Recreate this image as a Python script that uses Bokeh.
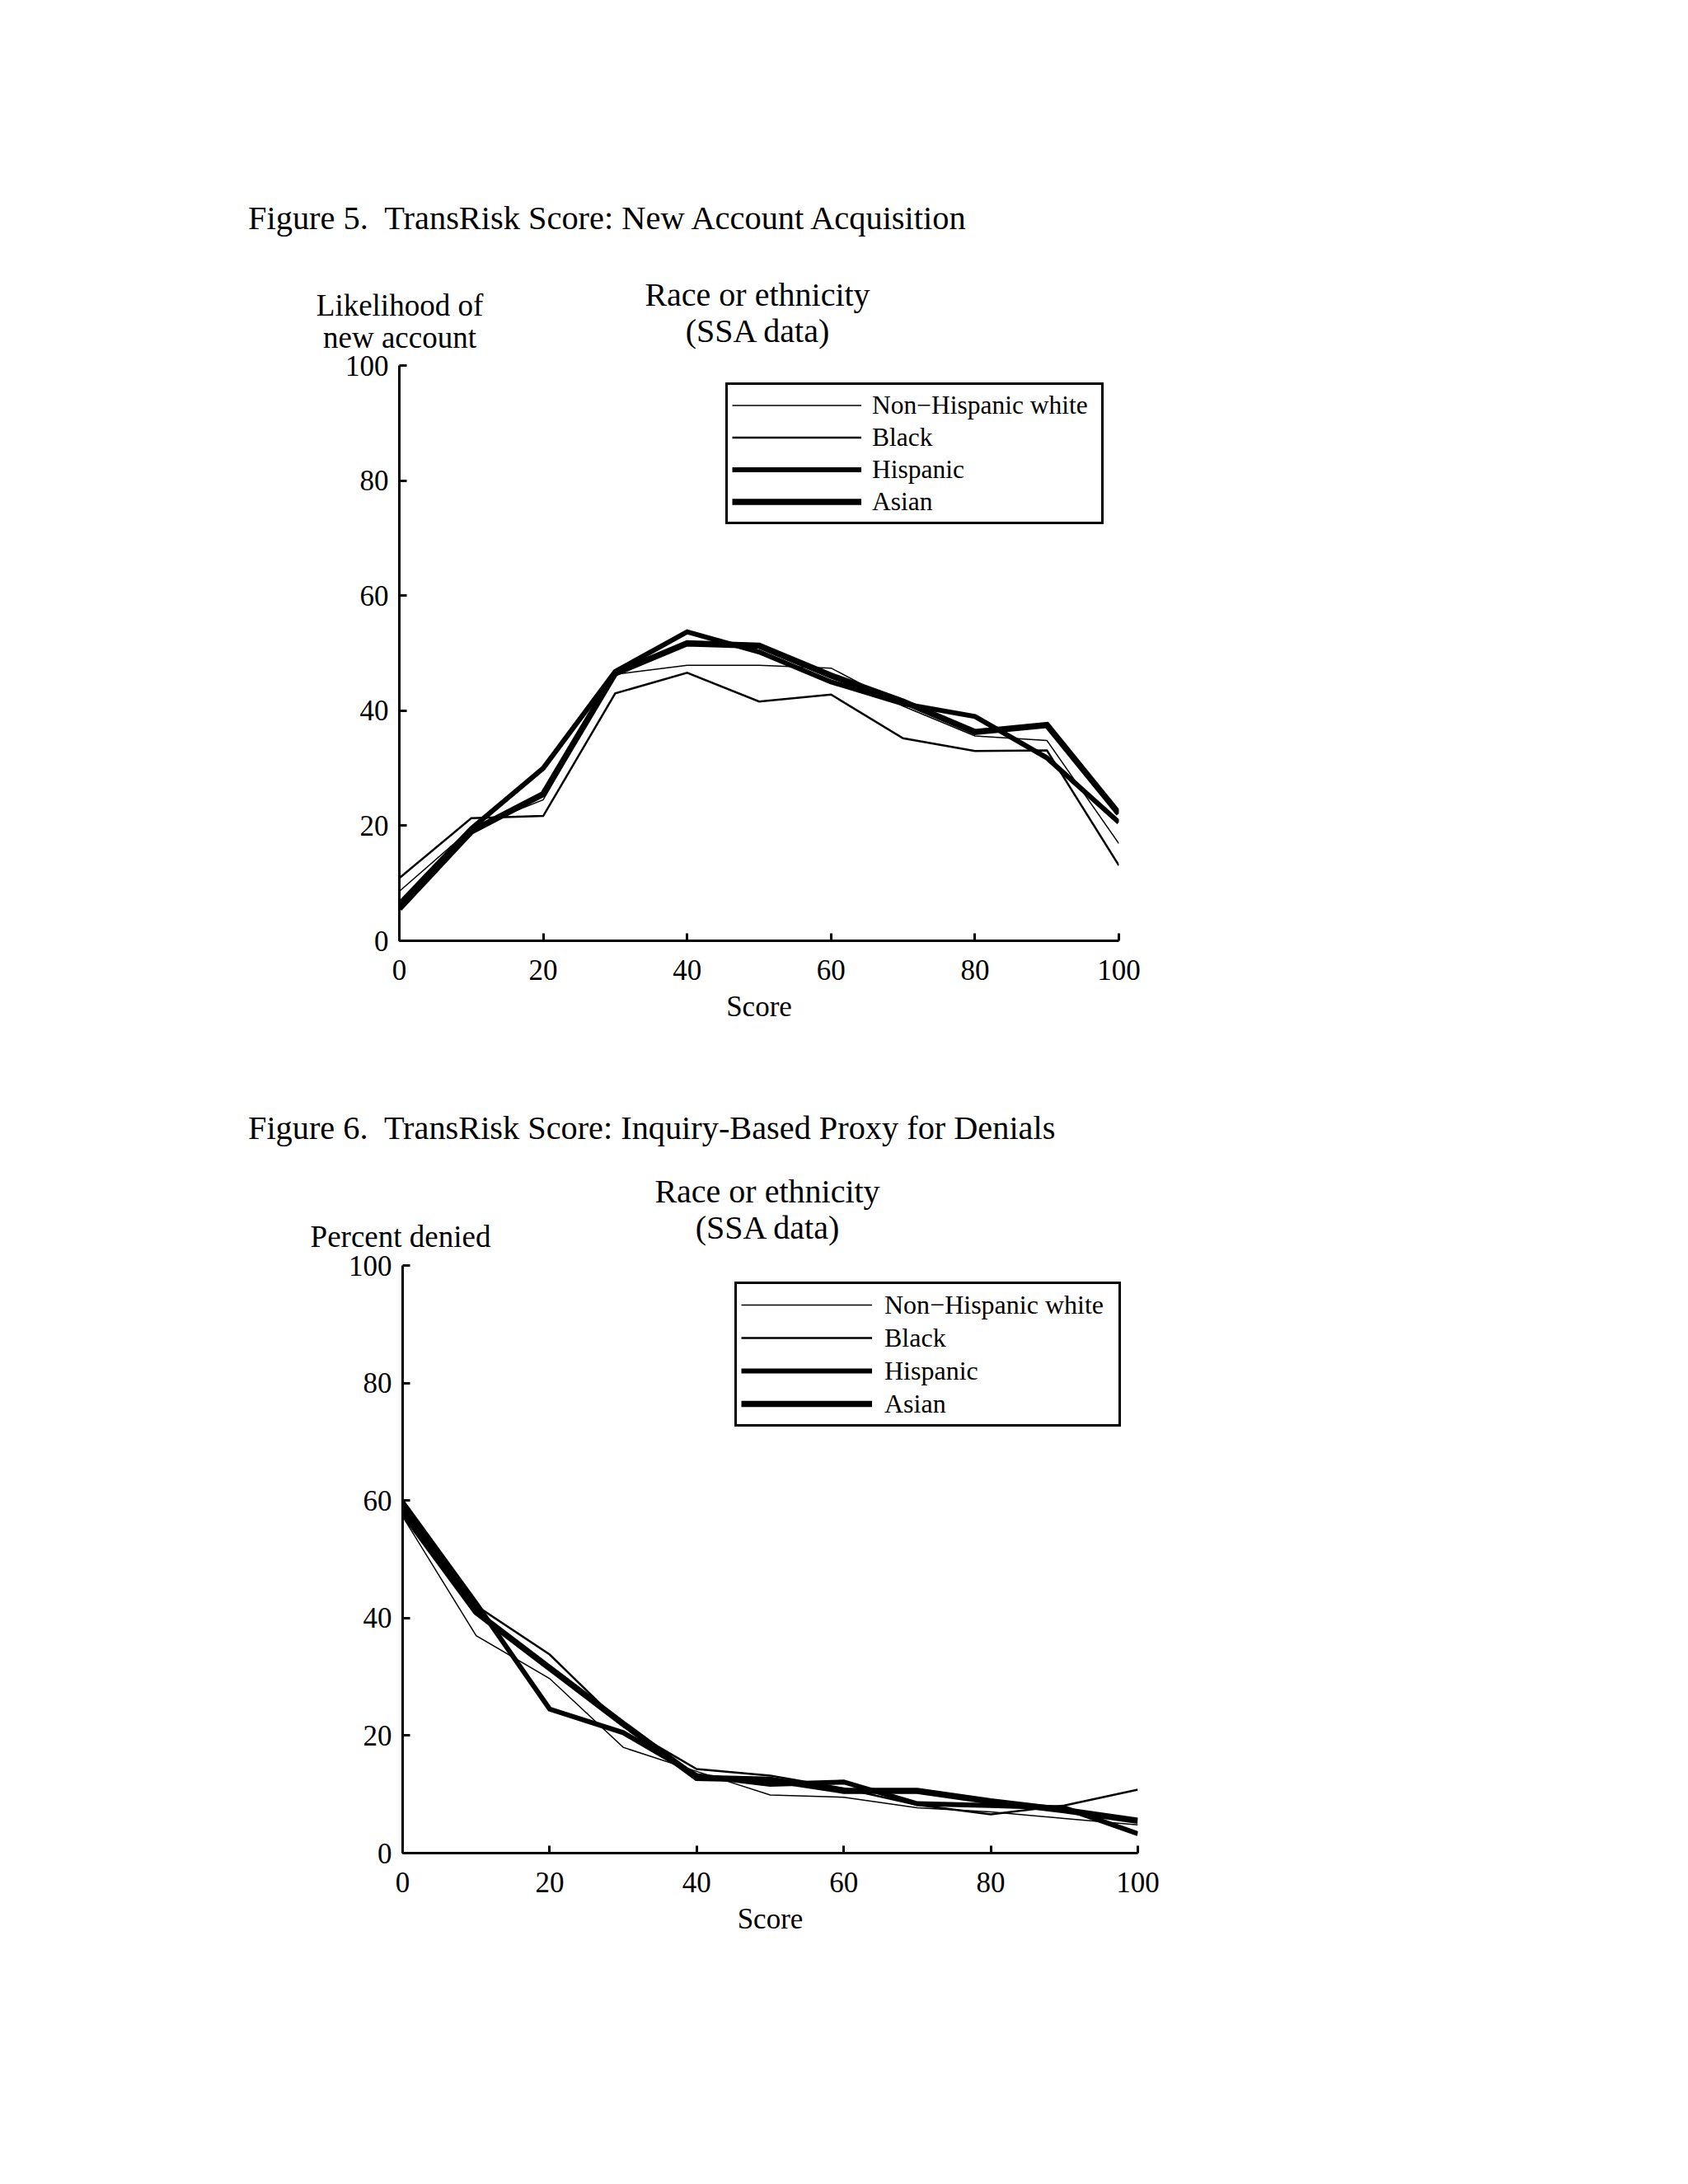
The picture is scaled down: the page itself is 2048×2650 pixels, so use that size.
from bokeh.plotting import figure
from bokeh.models import Range1d, FixedTicker, Legend, LegendItem, Div
from bokeh.layouts import column
from bokeh.embed import file_html
from bokeh.resources import INLINE

FONT = "Liberation Serif"

scores = [0, 10, 20, 30, 40, 50, 60, 70, 80, 90, 100]
series_names = ["Non\u2212Hispanic white", "Black", "Hispanic", "Asian"]
ticks = [0, 20, 40, 60, 80, 100]

# Figure 5: likelihood of new account
acq_white = [8.6, 19.5, 24.5, 46.3, 47.9, 47.9, 47.4, 40.8, 35.6, 34.8, 16.9]
acq_black = [10.9, 21.3, 21.7, 43.0, 46.6, 41.6, 42.8, 35.2, 33.0, 33.1, 13.1]
acq_hispanic = [6.4, 19.5, 30.0, 46.8, 53.7, 50.2, 45.0, 41.2, 39.0, 31.8, 20.6]
acq_asian = [5.6, 19.0, 25.5, 46.5, 51.7, 51.3, 46.1, 41.6, 36.3, 37.5, 22.1]

# Figure 6: percent denied
den_white = [57.3, 37.0, 29.7, 18.0, 13.9, 9.9, 9.5, 7.7, 7.0, 5.9, 4.8]
den_black = [58.8, 42.1, 33.8, 21.6, 14.3, 13.2, 11.0, 8.2, 6.6, 8.1, 10.8]
den_hispanic = [59.7, 42.5, 24.5, 20.5, 13.2, 11.7, 12.1, 8.4, 8.1, 7.7, 3.3]
den_asian = [58.0, 41.0, 31.5, 22.0, 12.8, 12.5, 10.6, 10.6, 8.8, 7.3, 5.5]

fig5_title = "Figure 5.  TransRisk Score: New Account Acquisition"
fig6_title = "Figure 6.  TransRisk Score: Inquiry-Based Proxy for Denials"
chart_title = ["Race or ethnicity", "(SSA data)"]
fig5_ylabel = ["Likelihood of", "new account"]
fig6_ylabel = ["Percent denied"]

widths = [1.5, 2.5, 6.0, 7.5]


def span(text, left, top, size, center=True):
    tr = "translate(-50%,-50%)" if center else "translateY(-50%)"
    return ('<span style="position:absolute;left:%dpx;top:%dpx;'
            'transform:%s;font-size:%.1fpx;line-height:1;white-space:pre;">%s</span>'
            % (left, top, tr, size, text))


def header(height, spans):
    html = ('<div style="position:relative;width:1480px;height:%dpx;'
            "font-family:'Liberation Serif';color:black;\">%s</div>"
            % (height, "".join(spans)))
    return Div(text=html, width=1480, height=height, margin=0,
               styles={"overflow": "visible"})


def make_chart(width, height, mb_top, mb_left, mb_right, mb_bottom, data,
               legend_loc, legend_glyph_w, legend_row_h, legend_standoff,
               legend_label_w, legend_font, margin):
    p = figure(width=width, height=height, output_backend="svg",
               toolbar_location=None, x_range=Range1d(0, 100),
               y_range=Range1d(0, 100), min_border_top=mb_top,
               min_border_left=mb_left, min_border_right=mb_right,
               min_border_bottom=mb_bottom, background_fill_color="white",
               border_fill_color="white", margin=margin)
    p.outline_line_color = None
    p.grid.visible = False
    for ax in (p.xaxis[0], p.yaxis[0]):
        ax.ticker = FixedTicker(ticks=ticks)
        ax.major_tick_in = 9
        ax.major_tick_out = 0
        ax.minor_tick_line_color = None
        ax.axis_line_width = 3
        ax.major_tick_line_width = 3
        ax.axis_line_color = "black"
        ax.major_tick_line_color = "black"
        ax.major_label_text_font = FONT
        ax.major_label_text_font_size = "35px"
        ax.major_label_text_color = "black"
    p.yaxis.major_label_standoff = 13
    p.xaxis.major_label_standoff = 23
    p.xaxis.axis_label = "Score"
    p.xaxis.axis_label_text_font = FONT
    p.xaxis.axis_label_text_font_size = "35px"
    p.xaxis.axis_label_text_font_style = "normal"
    p.xaxis.axis_label_text_color = "black"
    p.xaxis.axis_label_standoff = 10

    items = []
    for name, ys, w in zip(series_names, data, widths):
        r = p.line(scores, ys, line_color="black", line_width=w,
                   line_join="miter")
        items.append(LegendItem(label=name, renderers=[r]))

    legend = Legend(items=items, location=legend_loc, margin=0, padding=5,
                    spacing=0, glyph_width=legend_glyph_w,
                    glyph_height=legend_row_h, label_height=legend_row_h,
                    label_width=legend_label_w,
                    label_standoff=legend_standoff,
                    label_text_font=FONT, label_text_font_size=legend_font,
                    label_text_color="black", border_line_color="black",
                    border_line_alpha=1.0, border_line_width=3,
                    background_fill_color="white", background_fill_alpha=1.0)
    p.add_layout(legend)
    return p


head1 = header(423, [
    span(fig5_title, 301, 265, 40.4, center=False),
    span(chart_title[0], 919, 358, 40),
    span(chart_title[1], 919, 402, 40),
    span(fig5_ylabel[0], 485, 370, 37),
    span(fig5_ylabel[1], 485, 409, 37),
])

# frame: x 484..1357, y 443..1141
p1 = make_chart(1480, 877, 20, 484, 123, 159,
                [acq_white, acq_black, acq_hispanic, acq_asian],
                (396, 505), 157, 39, 13, 273, "31.5px", 0)

head2 = header(215, [
    span(fig6_title, 301, 69, 40.3, center=False),
    span(chart_title[0], 931, 146, 40),
    span(chart_title[1], 931, 190, 40),
    span(fig6_ylabel[0], 486, 200, 37),
])

# frame: x 488..1380, y 1535..2248 (shifted by a 4px left margin)
p2 = make_chart(1499, 915, 20, 484, 123, 182,
                [den_white, den_black, den_hispanic, den_asian],
                (403, 517), 159, 40, 15, 279, "32px", (0, 0, 0, 4))

page = column(head1, p1, head2, p2, spacing=0)
open("out.html", "w").write(file_html(page, INLINE))
